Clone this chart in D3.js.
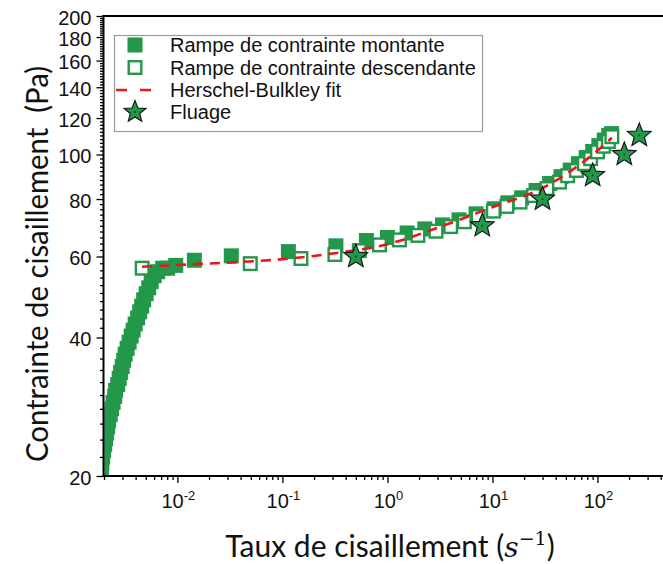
<!DOCTYPE html>
<html><head><meta charset="utf-8">
<script src="https://cdn.jsdelivr.net/npm/d3@7"></script>
<style>body{margin:0;background:#fff;overflow:hidden}</style>
</head><body>
<svg id="c" width="663" height="564" xmlns="http://www.w3.org/2000/svg"></svg>
<script>
// ---- data ----
const rampUpX = [0.00182,0.00185,0.00189,0.00191,0.00194,0.00198,0.00203,0.00207,0.00212,0.00217,0.00221,0.00229,0.00236,0.00244,0.00253,0.00258,0.00270,0.00279,0.00288,0.00298,0.00308,0.00318,0.00332,0.00347,0.00363,0.00379,0.00396,0.00418,0.00437,0.00457,0.00477,0.00504,0.00533,0.00563,0.00601,0.00649,0.00725,0.00808,0.00964,0.0145,0.0326,0.114,0.323,0.63,1.0,1.54,2.27,3.34,4.8,6.98,10.4,14,19,26,35,45,55,66,78,90,103,116,128,136];
const rampUpY = [19.5,20.1,20.7,21.35,22.0,22.7,23.4,24.1,24.8,25.6,26.4,27.2,28.0,28.9,29.8,30.7,31.6,32.6,33.6,34.6,35.7,36.8,37.9,39.1,40.3,41.5,42.8,44.1,45.5,46.8,48.3,49.8,51.3,52.9,54.5,55.6,56.6,56.6,57.4,58.9,60.2,61.5,63.3,65.0,66.0,67.5,68.9,70.3,72.1,74.3,76.2,78.5,80.5,83.5,86.5,89.5,92.5,95.5,98.5,101.5,104.5,107.5,110,111];
const rampDownX = [0.00462,0.0494,0.15,0.316,0.54,0.84,1.3,1.95,2.9,4.0,5.4,7.3,10.2,13.7,18.3,24.6,33,43.5,52,63,75,86,100,114,127,137];
const rampDownY = [56.6,57.9,59.4,60.6,61.8,63.6,65.2,66.7,68.1,69.7,71.4,73.3,75.3,77.1,78.8,81.4,84.3,87.1,89.9,92.3,95.5,97.9,101.3,104.2,106.7,109.3];
const fitX = [0.0046,0.01,0.03,0.1,0.3,1,3,10,30,100,137];
const fitY = [57.0,57.5,58.2,59.2,60.9,63.8,69.3,76.8,84.5,102,108.7];
const creepX = [0.5,8,30,90,180,250];
const creepY = [60,70,80,90,100,110];
const yMajorTicks = [20,40,60,80,100,120,140,160,180,200];
const xMajorExponents = [-2,-1,0,1,2];
const legendLabels = ["Rampe de contrainte montante","Rampe de contrainte descendante","Herschel-Bulkley fit","Fluage"];

const GREEN = "#23984a", RED = "#e8161b";
const svg = d3.select("#c");
const L = 103.5, T = 16, B = 476, R = 663;
const x = d3.scaleLog().domain([0.002, 1000]).range([104, 702.5]);
const y = d3.scaleLog().domain([20, 200]).range([B, T]);

svg.append("defs").append("clipPath").attr("id","clip")
  .append("rect").attr("x",L+1).attr("y",T).attr("width",R-L).attr("height",B-T);

const plot = svg.append("g").attr("clip-path","url(#clip)");
const S = 15;
plot.selectAll("rect.up").data(rampUpX.map((v,i)=>[v,rampUpY[i]])).enter().append("rect")
  .attr("class","up").attr("x",d=>x(d[0])-S/2).attr("y",d=>y(d[1])-S/2)
  .attr("width",S).attr("height",S).attr("fill",GREEN);
const SW = 2.4;
plot.selectAll("rect.down").data(rampDownX.map((v,i)=>[v,rampDownY[i]])).enter().append("rect")
  .attr("class","down").attr("x",d=>x(d[0])-S/2+SW/2).attr("y",d=>y(d[1])-S/2+SW/2)
  .attr("width",S-SW).attr("height",S-SW).attr("fill","#fff").attr("stroke",GREEN).attr("stroke-width",SW);

const line = d3.line().x(d=>x(d[0])).y(d=>y(d[1])).curve(d3.curveMonotoneX);
plot.append("path").datum(fitX.map((v,i)=>[v,fitY[i]])).attr("d",line)
  .attr("fill","none").attr("stroke",RED).attr("stroke-width",2.6).attr("stroke-dasharray","10,7");

function starPath(Ro, Ri){
  let p=[];
  for(let k=0;k<10;k++){
    const a = -Math.PI/2 + k*Math.PI/5;
    const r = k%2===0?Ro:Ri;
    p.push([r*Math.cos(a), r*Math.sin(a)]);
  }
  return "M"+p.map(q=>q[0].toFixed(2)+","+q[1].toFixed(2)).join("L")+"Z";
}
const starD = starPath(12.5, 5.4);
const stars = plot.selectAll("g.star").data(creepX.map((v,i)=>[v,creepY[i]])).enter().append("g")
  .attr("transform",d=>`translate(${x(d[0])},${y(d[1])})`);
stars.append("path").attr("d",starD).attr("fill",GREEN).attr("stroke","#111").attr("stroke-width",1.1);
stars.append("circle").attr("r",0.9).attr("fill","#0b3d1c");

// ---- axes ----
const axisG = svg.append("g");
const yMinor = d3.range(22,200,2).filter(v=>v%20!==0);
const gym = axisG.append("g").attr("transform",`translate(${L},0)`)
  .call(d3.axisLeft(y).tickValues(yMinor).tickSize(3.5).tickFormat(""));
const gy = axisG.append("g").attr("transform",`translate(${L},0)`)
  .call(d3.axisLeft(y).tickValues(yMajorTicks).tickSize(7).tickPadding(5).tickFormat(d3.format("d")));
[gym,gy].forEach(g=>{g.select(".domain").remove(); g.selectAll("line").attr("stroke","#000").attr("stroke-width",1.3);});
gy.selectAll("text").attr("font-family","Liberation Sans, Arial, sans-serif").attr("font-size",20).attr("fill","#111").attr("dy","0.4em");

const xMinor = [];
for(let k=-3;k<=2;k++) for(let m=2;m<=9;m++){const v=m*Math.pow(10,k); if(v>=0.002 && x(v)<=R) xMinor.push(v);}
const xMajor = xMajorExponents.map(e=>Math.pow(10,e));
const gxm = axisG.append("g").attr("transform",`translate(0,${B})`).call(d3.axisBottom(x).tickValues(xMinor).tickSize(4).tickFormat(""));
const gx = axisG.append("g").attr("transform",`translate(0,${B})`).call(d3.axisBottom(x).tickValues(xMajor).tickSize(7).tickFormat(""));
[gxm,gx].forEach(g=>{g.select(".domain").remove(); g.selectAll("line").attr("stroke","#000").attr("stroke-width",1.3);});
const xl = axisG.append("g");
xMajorExponents.forEach(e=>{
  const t = xl.append("text").attr("x",x(Math.pow(10,e))+1).attr("y",508).attr("text-anchor","middle")
    .attr("font-family","Liberation Sans, Arial, sans-serif").attr("font-size",20).attr("fill","#111");
  t.append("tspan").text("10");
  t.append("tspan").attr("dy",-8).attr("font-size",13).text(String(e));
});

// frame lines
axisG.append("line").attr("x1",L).attr("x2",L).attr("y1",T-1).attr("y2",B+1).attr("stroke","#000").attr("stroke-width",2);
axisG.append("line").attr("x1",L-1).attr("x2",R).attr("y1",B).attr("y2",B).attr("stroke","#000").attr("stroke-width",2);
axisG.append("line").attr("x1",L-1).attr("x2",R).attr("y1",T).attr("y2",T).attr("stroke","#000").attr("stroke-width",2);

// titles
svg.append("text").attr("transform","translate(48,264) rotate(-90)").attr("text-anchor","middle")
  .attr("font-family","Lato, 'Open Sans', sans-serif").attr("font-size",31).attr("fill","#111")
  .attr("xml:space","preserve").attr("textLength",396).attr("lengthAdjust","spacingAndGlyphs")
  .text("Contrainte de cisaillement  (Pa)");
const xt = svg.append("text").attr("x",390).attr("y",557).attr("text-anchor","middle")
  .attr("font-family","Lato, 'Open Sans', sans-serif").attr("font-size",30).attr("fill","#111");
xt.append("tspan").text("Taux de cisaillement (");
xt.append("tspan").attr("font-family","'DejaVu Serif','Liberation Serif',serif").attr("font-style","italic").attr("font-size",28).text("s");
xt.append("tspan").attr("dy",-12).attr("font-family","'DejaVu Serif','Liberation Serif',serif").attr("font-size",19).text("\u22121");
xt.append("tspan").attr("dy",12).text(")");

// legend
const lg = svg.append("g");
lg.append("rect").attr("x",114.5).attr("y",35.5).attr("width",368).attr("height",96)
  .attr("fill","#fff").attr("stroke","#9a9a9a").attr("stroke-width",1.2);
const rowY = [45,67.5,90,112];
lg.append("rect").attr("x",135-S/2).attr("y",rowY[0]-S/2).attr("width",S).attr("height",S).attr("fill",GREEN);
lg.append("rect").attr("x",135-S/2+SW/2).attr("y",rowY[1]-S/2+SW/2).attr("width",S-SW).attr("height",S-SW)
  .attr("fill","#fff").attr("stroke",GREEN).attr("stroke-width",SW);
lg.append("line").attr("x1",116).attr("x2",156).attr("y1",rowY[2]).attr("y2",rowY[2])
  .attr("stroke",RED).attr("stroke-width",2.6).attr("stroke-dasharray","11,13");
const ls = lg.append("g").attr("transform",`translate(135,${rowY[3]})`);
ls.append("path").attr("d",starPath(11.5,5)).attr("fill",GREEN).attr("stroke","#111").attr("stroke-width",1.1);
ls.append("circle").attr("r",0.9).attr("fill","#0b3d1c");
legendLabels.forEach((s,i)=>{
  lg.append("text").attr("x",170).attr("y",rowY[i]+7).attr("font-family","Liberation Sans, Arial, sans-serif")
    .attr("font-size",20).attr("fill","#111").text(s);
});
</script>
</body></html>
